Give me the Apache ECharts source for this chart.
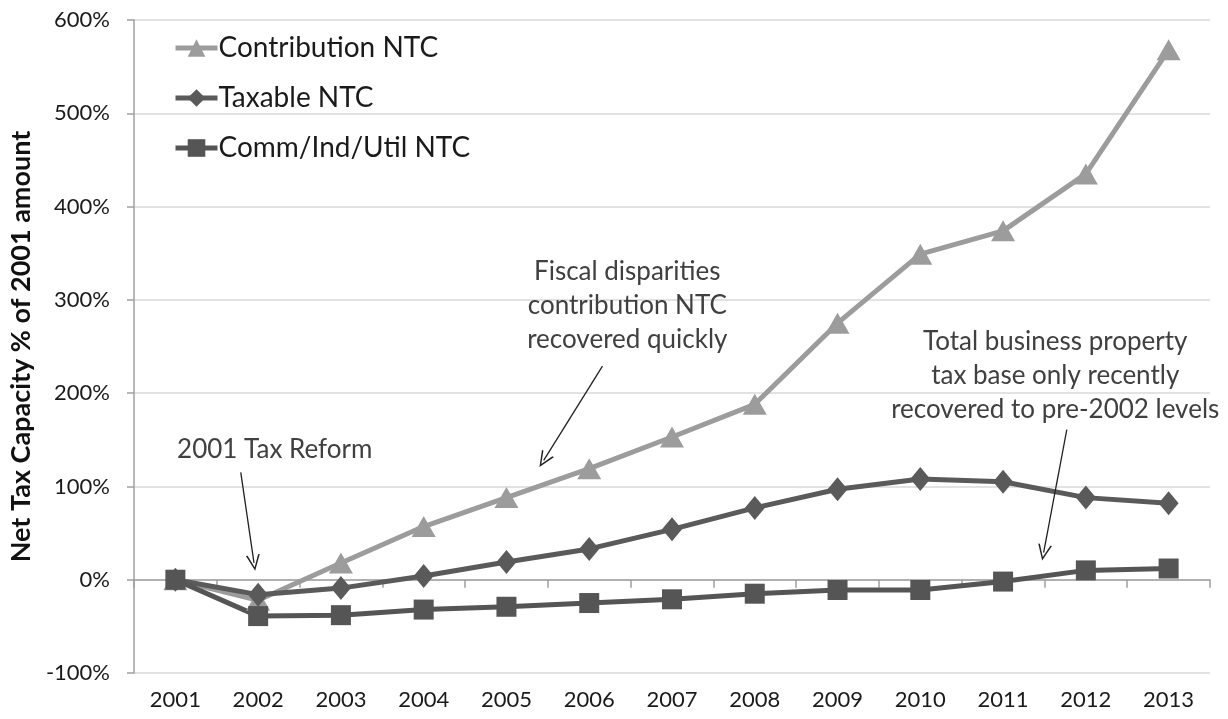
<!DOCTYPE html>
<html>
<head>
<meta charset="utf-8">
<script src="https://cdn.jsdelivr.net/npm/echarts@6/dist/echarts.min.js"></script>
<style>
  html, body { margin: 0; padding: 0; background: #fff; }
  #chart { width: 1228px; height: 719px; }
</style>
</head>
<body>
<div id="chart"></div>
<script>
// data (percent of 2001 amount)
var years = ['2001', '2002', '2003', '2004', '2005', '2006', '2007', '2008', '2009', '2010', '2011', '2012', '2013'];
var contribution = [0, -22, 18, 57, 88, 119, 153, 188, 275, 349, 374, 435, 568];
var taxable = [0, -16, -9, 4, 19, 33, 54, 77, 97, 108, 105, 88, 82];
var commIndUtil = [0, -39, -38, -32, -29, -25, -21, -15, -11, -11, -2, 10, 12];

var yTicks = { min: -100, max: 600, step: 100 };

// annotations: [x index, y value]
var notes = [
  { text: '2001 Tax Reform', at: [1.2, 139], from: [0.79, 115], to: [0.95, 18] },
  { text: 'Fiscal disparities\ncontribution NTC\nrecovered quickly', at: [5.46, 294], from: [5.16, 229], to: [4.45, 128] },
  { text: 'Total business property\ntax base only recently\nrecovered to pre-2002 levels', at: [10.63, 219], from: [10.77, 161], to: [10.49, 29] }
];

var FONT = 'Lato';
var chevron = 'path://M5,0 L10,10 L8.8,10 L5,2.2 L1.2,10 L0,10 Z';

function GenerateChart() {
	var chart = echarts.init(document.getElementById('chart'), null, {renderer: 'canvas'});

	var lineSeries = function (name, data, color, symbol, size) {
		return {
			name: name,
			type: 'line',
			data: data,
			xAxisIndex: 0,
			color: color,
			symbol: symbol,
			symbolSize: size,
			showAllSymbol: true,
			lineStyle: { width: 5, color: color },
			itemStyle: { color: color },
			emphasis: { disabled: true }
		};
	};

	chart.setOption({
		animation: false,
		textStyle: { fontFamily: FONT },
		grid: { left: 131, right: 18, top: 20, bottom: 46 },
		legend: {
			orient: 'vertical',
			left: 168,
			top: 29,
			itemWidth: 42,
			itemHeight: 22,
			itemGap: 22,
			lineStyle: { width: 5 },
			textStyle: { fontSize: 28, color: '#1a1a1a', fontFamily: FONT, padding: [0, 0, 0, -4] },
			data: ['Contribution NTC', 'Taxable NTC', 'Comm/Ind/Util NTC']
		},
		xAxis: [
			{
				// axis line on the zero line, with ticks
				type: 'category',
				data: years,
				boundaryGap: true,
				axisLine: { onZero: true, lineStyle: { color: '#a0a0a0', width: 1.5 } },
				axisTick: { show: true, length: 8, lineStyle: { color: '#a0a0a0', width: 1.5 } },
				axisLabel: { show: false },
				splitLine: { show: false }
			},
			{
				// labels at the bottom
				type: 'category',
				data: years,
				position: 'bottom',
				boundaryGap: true,
				axisLine: { show: false, onZero: false },
				axisTick: { show: false },
				axisLabel: { fontSize: 22, color: '#1a1a1a', margin: 16, fontFamily: FONT },
				splitLine: { show: false }
			},
			{
				// hidden value axis for annotations
				type: 'value',
				min: -0.5,
				max: years.length - 0.5,
				show: false
			}
		],
		yAxis: {
			type: 'value',
			min: yTicks.min,
			max: yTicks.max,
			interval: yTicks.step,
			name: 'Net Tax Capacity % of 2001 amount',
			nameLocation: 'middle',
			nameRotate: 90,
			nameGap: 91,
			nameTextStyle: { fontSize: 27, fontWeight: 'bold', color: '#111', fontFamily: FONT },
			axisLine: { show: true, onZero: false, lineStyle: { color: '#a0a0a0', width: 1.5 } },
			axisTick: { show: true, length: 7, lineStyle: { color: '#a0a0a0', width: 1.5 } },
			axisLabel: { fontSize: 22, color: '#1a1a1a', margin: 24, formatter: '{value}%', fontFamily: FONT },
			splitLine: { lineStyle: { color: '#d9d9d9', width: 1.5 } }
		},
		series: [
			lineSeries('Contribution NTC', contribution, '#9c9c9c', 'triangle', [24, 21]),
			lineSeries('Taxable NTC', taxable, '#5a5a5a', 'diamond', [20, 24]),
			lineSeries('Comm/Ind/Util NTC', commIndUtil, '#555555', 'rect', 20),
			{
				name: 'notes',
				type: 'line',
				xAxisIndex: 2,
				data: [],
				silent: true,
				markLine: {
					silent: true,
					symbol: ['none', chevron],
					symbolSize: [14, 16],
					label: { show: false },
					lineStyle: { color: '#222', width: 1.3, type: 'solid' },
					emphasis: { disabled: true },
					data: notes.map(function (n) {
						return [{ coord: n.from }, { coord: n.to }];
					})
				},
				markPoint: {
					silent: true,
					symbol: 'rect',
					symbolSize: 1,
					itemStyle: { color: 'rgba(0,0,0,0)' },
					label: {
						show: true,
						position: 'inside',
						formatter: '{b}',
						fontSize: 26,
						lineHeight: 34,
						align: 'center',
						color: '#404040',
						fontFamily: FONT
					},
					data: notes.map(function (n) {
						return { name: n.text, coord: n.at };
					})
				}
			}
		]
	});
}

GenerateChart();
</script>
</body>
</html>
